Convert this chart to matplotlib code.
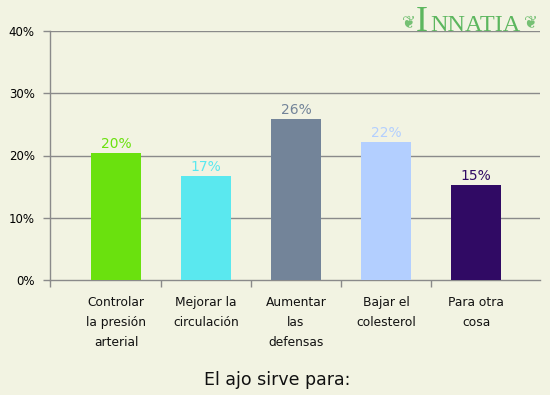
import matplotlib
matplotlib.use('Agg')
import matplotlib.pyplot as plt

categories = ['Controlar\nla presión\narterial', 'Mejorar la\ncirculación',
              'Aumentar\nlas\ndefensas', 'Bajar el\ncolesterol', 'Para otra\ncosa']
values = [20.4, 16.7, 25.9, 22.2, 15.3]
value_labels = ['20%', '17%', '26%', '22%', '15%']
colors = ['#6ae10e', '#5ae8ef', '#738499', '#b3cfff', '#300a64']
yticks = [0, 10, 20, 30, 40]
ytick_labels = ['0%', '10%', '20%', '30%', '40%']

bg = '#f2f3e2'
grid_c = '#8a8a8a'
logo_c = '#4cb050'

fig = plt.figure(figsize=(5.5, 3.95), dpi=100, facecolor=bg)
ax = fig.add_axes([50 / 550, 1 - 280 / 395, 490 / 550, 249 / 395])
ax.set_facecolor(bg)

x = list(range(len(values)))
ax.bar(x, values, width=50 / 90, color=colors, zorder=3)
for xi, v, lab, c in zip(x, values, value_labels, colors):
    ax.text(xi, v + 0.3, lab, ha='center', va='bottom', fontsize=10, color=c, zorder=4)

ax.set_xlim(-0.733, 4.711)
ax.set_ylim(0, 40)
ax.set_yticks(yticks)
ax.set_yticklabels(ytick_labels, fontsize=8.5)
for y in yticks[1:]:
    ax.axhline(y, color=grid_c, linewidth=1, zorder=1)

ax.set_xticks([-0.733, 0.5, 1.5, 2.5, 3.5])
ax.set_xticklabels([])
ax.tick_params(axis='both', color=grid_c, length=5, width=1)
ax.tick_params(axis='y', pad=6)
for xi, cat in zip(x, categories):
    ax.text(xi, -2.6, cat, ha='center', va='top', fontsize=8.8,
            linespacing=1.7, color='#111111')

for s in ['top', 'right']:
    ax.spines[s].set_visible(False)
for s in ['left', 'bottom']:
    ax.spines[s].set_color(grid_c)
    ax.spines[s].set_linewidth(1)

fig.text(277 / 550, 1 - 380 / 395, 'El ajo sirve para:', ha='center', va='center',
         fontsize=12.5, color='#111111')

# logo
fig.text(428 / 550, 1 - 31 / 395, 'I', ha='right', va='baseline', fontsize=26,
         family='Liberation Serif', color=logo_c, alpha=0.9, zorder=5)
fig.text(430 / 550, 1 - 31 / 395, 'NNATIA', ha='left', va='baseline', fontsize=17.5,
         family='Liberation Serif', color=logo_c, alpha=0.9, zorder=5)
fig.text(409 / 550, 1 - 22 / 395, '❦', ha='center', va='center', fontsize=12,
         color=logo_c, alpha=0.75)
fig.text(531 / 550, 1 - 22 / 395, '❦', ha='center', va='center', fontsize=12,
         color=logo_c, alpha=0.75)

fig.savefig('out.png', dpi=100, facecolor=bg)
